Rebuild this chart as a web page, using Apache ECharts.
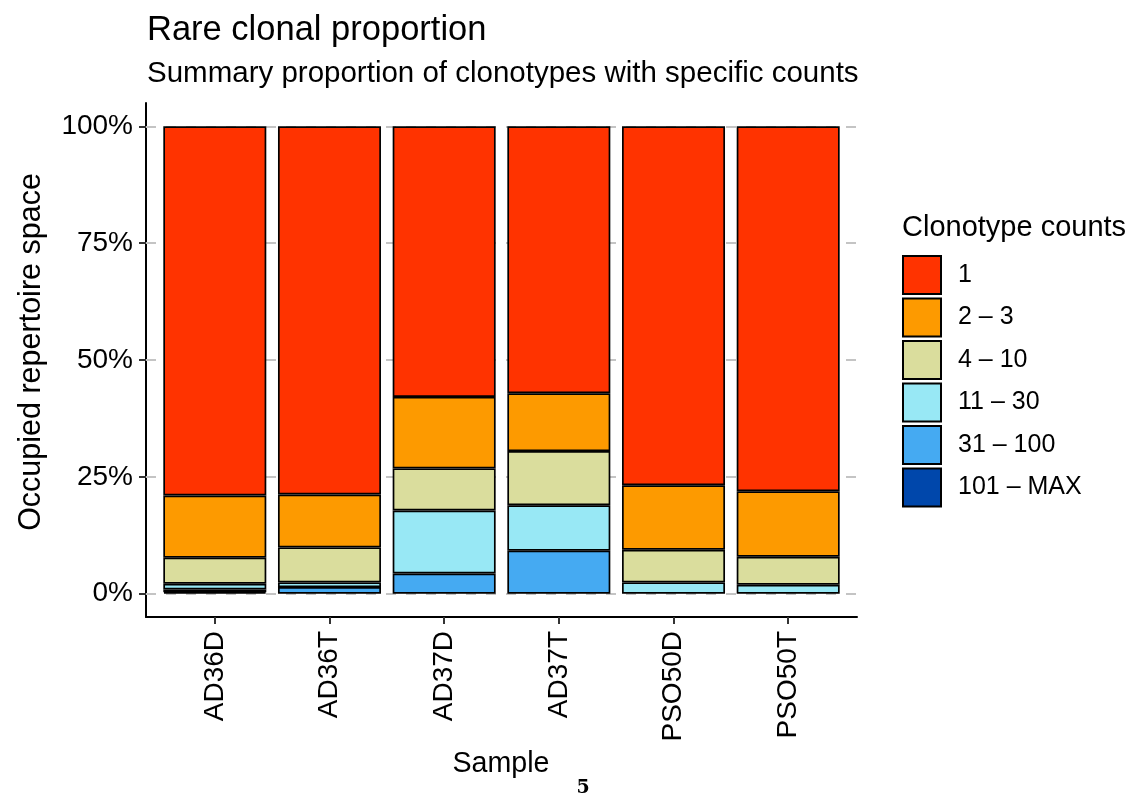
<!DOCTYPE html>
<html>
<head>
<meta charset="utf-8">
<script src="https://cdn.jsdelivr.net/npm/echarts@6/dist/echarts.min.js"></script>
<style>html,body{margin:0;padding:0;background:#fff;}#chart{width:1135px;height:797px;}</style>
</head>
<body>
<div id="chart"></div>
<script>
const categories = ['AD36D', 'AD36T', 'AD37D', 'AD37T', 'PSO50D', 'PSO50T'];
const groups = ['1', '2 – 3', '4 – 10', '11 – 30', '31 – 100', '101 – MAX'];
const colors = ['#FF3300', '#FD9A00', '#DADD9D', '#98E8F5', '#45AAF2', '#0047AB'];
const vals_1 = [79.0, 78.8, 57.9, 57.1, 76.8, 78.1];
const vals_2_3 = [13.3, 11.3, 15.3, 12.4, 13.8, 14.0];
const vals_4_10 = [5.6, 7.5, 9.0, 11.6, 7.0, 6.0];
const vals_11_30 = [1.2, 1.0, 13.5, 9.7, 2.4, 1.9];
const vals_31_100 = [0.6, 1.4, 4.3, 9.2, 0, 0];
const vals_101_max = [0.3, 0, 0, 0, 0, 0];
const yTicks = [0, 25, 50, 75, 100];

const seriesValues = [vals_1, vals_2_3, vals_4_10, vals_11_30, vals_31_100, vals_101_max];
const FONT = "'Liberation Sans', Arial, sans-serif";

const chart = echarts.init(document.getElementById('chart'), null, {renderer: 'canvas'});

const barSeries = [];
// stack from bottom: 101-MAX first, "1" last (top)
for (let g = groups.length - 1; g >= 0; g--) {
  barSeries.push({
    name: groups[g],
    type: 'bar',
    stack: 'total',
    barWidth: 103,
    z: 3,
    encode: {x: 1, y: 0},
    itemStyle: {color: colors[g], borderColor: '#000', borderWidth: 1.7},
    emphasis: {disabled: true},
    data: seriesValues[g].map((v, i) => (v > 0 ? [v, i] : [null, i]))
  });
}

const option = {
  animation: false,
  grid: {left: 146, top: 103, width: 711, height: 514, containLabel: false},
  xAxis: {
    type: 'value', min: -0.6, max: 5.6,
    axisLine: {show: true, onZero: false, lineStyle: {color: '#000', width: 2}},
    axisTick: {show: true, length: 7, lineStyle: {color: '#333', width: 2}, customValues: categories.map((c, i) => i)},
    axisLabel: {
      show: true, rotate: 90, margin: 14, fontSize: 28, color: '#000', fontFamily: FONT,
      customValues: categories.map((c, i) => i),
      formatter: v => categories[Math.round(v)]
    },
    splitLine: {show: false}
  },
  yAxis: {
    type: 'value', min: -5, max: 105,
    axisLine: {show: true, onZero: false, lineStyle: {color: '#000', width: 2}},
    axisTick: {show: true, length: 7, lineStyle: {color: '#333', width: 2}, customValues: yTicks},
    axisLabel: {show: true, margin: 13, fontSize: 28, color: '#000', fontFamily: FONT,
      customValues: yTicks, formatter: v => v + '%'},
    splitLine: {show: false}
  },
  legend: {
    orient: 'vertical', left: 902, top: 255, padding: 0,
    itemWidth: 38, itemHeight: 38, itemGap: 2.5,
    icon: 'rect',
    data: groups.slice(),
    textStyle: {fontSize: 25, color: '#000', fontFamily: FONT, padding: [0, 0, 0, 12]},
    selectedMode: false
  },
  series: [
    {
      type: 'line', name: 'grid', data: [], z: 1, silent: true,
      markLine: {
        silent: true, symbol: ['none', 'none'], z: 1,
        label: {show: false},
        lineStyle: {color: '#c4c4c4', type: [10, 10], width: 2},
        data: yTicks.map(t => ({yAxis: t}))
      }
    }
  ].concat(barSeries),
  graphic: [
    {type: 'text', left: 147, top: 13, style: {text: 'Rare clonal proportion', font: "34.5px " + FONT, fill: '#000'}},
    {type: 'text', left: 147, top: 59, style: {text: 'Summary proportion of clonotypes with specific counts', font: "29.5px " + FONT, fill: '#000'}},
    {type: 'text', left: 902, top: 213, style: {text: 'Clonotype counts', font: "29px " + FONT, fill: '#000'}},
    {type: 'text', x: 501, y: 764, style: {text: 'Sample', font: "28.6px " + FONT, fill: '#000', align: 'center', verticalAlign: 'middle'}},
    {type: 'text', x: 32, y: 352, rotation: Math.PI / 2, style: {text: 'Occupied repertoire space', font: "30.5px " + FONT, fill: '#000', align: 'center', verticalAlign: 'middle'}},
    {type: 'text', x: 583, y: 788, style: {text: '5', font: "bold 19px 'DejaVu Serif', 'Liberation Serif', serif", fill: '#000', align: 'center', verticalAlign: 'middle'}}
  ]
};
chart.setOption(option);
</script>
</body>
</html>
